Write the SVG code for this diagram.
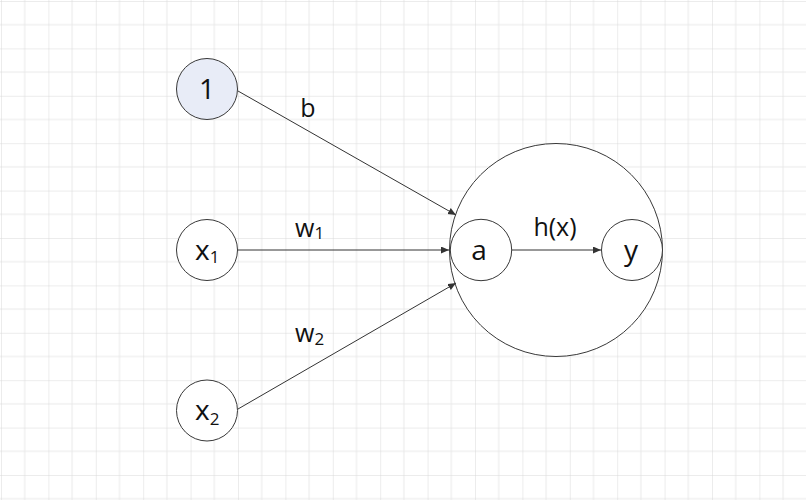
<svg xmlns="http://www.w3.org/2000/svg" width="806" height="500" viewBox="0 0 806 500">
  <style>
    .node { stroke: #383838; stroke-width: 1; fill: #ffffff; }
    .input1 { fill: #e8ecf7; }
    .edge { stroke: #333333; stroke-width: 1; fill: none; marker-end: url(#arrow); }
    text { font-family: "Open Sans", "Noto Sans", "DejaVu Sans", sans-serif; fill: #111111; }
    .big { font-size: 28px; }
    .lbl { font-size: 25px; }
    .sub { font-size: 17px; }
  </style>
  <defs>
    <pattern id="grid" patternUnits="userSpaceOnUse" x="1" y="1" width="47.4" height="47.4">
      <path d="M23.7,0 V47.4 M0,23.7 H47.4" stroke="#e9e9e9" stroke-width="1" fill="none"/>
      <path d="M0,0 V47.4 M0,0 H47.4" stroke="#d9d9d9" stroke-width="1" fill="none"/>
    </pattern>
    <marker id="arrow" markerUnits="userSpaceOnUse" markerWidth="9" markerHeight="8" refX="8" refY="3.5" orient="auto">
      <path d="M0,0 L8,3.5 L0,7 Z" fill="#333333"/>
    </marker>
  </defs>
  <rect width="806" height="500" fill="#ffffff"/>
  <rect width="806" height="500" fill="url(#grid)"/>

  <g id="neuron">
    <circle class="node" cx="556" cy="250" r="106.5"/>
  </g>

  <g id="connectors">
    <line class="edge" x1="238" y1="91" x2="456" y2="215"/>
    <line class="edge" x1="238" y1="250" x2="449" y2="250"/>
    <line class="edge" x1="238" y1="409" x2="456" y2="283"/>
    <line class="edge" x1="512" y1="250" x2="601" y2="250"/>
    <text class="lbl" x="308" y="117" text-anchor="middle">b</text>
    <text class="lbl" x="295" y="237">w<tspan class="sub" dy="2">1</tspan></text>
    <text class="lbl" x="295" y="342">w<tspan class="sub" dy="3">2</tspan></text>
    <text class="lbl" x="555" y="236" text-anchor="middle">h(x)</text>
  </g>

  <g id="node-bias">
    <circle class="node input1" cx="207" cy="89" r="30.5"/>
    <text class="big" x="207" y="99" text-anchor="middle">1</text>
  </g>
  <g id="node-x1">
    <circle class="node" cx="207" cy="250" r="30.5"/>
    <text class="big" x="195" y="260">x<tspan class="sub" dy="3">1</tspan></text>
  </g>
  <g id="node-x2">
    <circle class="node" cx="207" cy="410.5" r="30.5"/>
    <text class="big" x="195" y="420">x<tspan class="sub" dy="5">2</tspan></text>
  </g>
  <g id="node-a">
    <circle class="node" cx="481" cy="250" r="30.7"/>
    <text class="big" x="479" y="260" text-anchor="middle">a</text>
  </g>
  <g id="node-y">
    <circle class="node" cx="632" cy="250" r="30.5"/>
    <text class="big" x="631" y="260" text-anchor="middle">y</text>
  </g>
</svg>
